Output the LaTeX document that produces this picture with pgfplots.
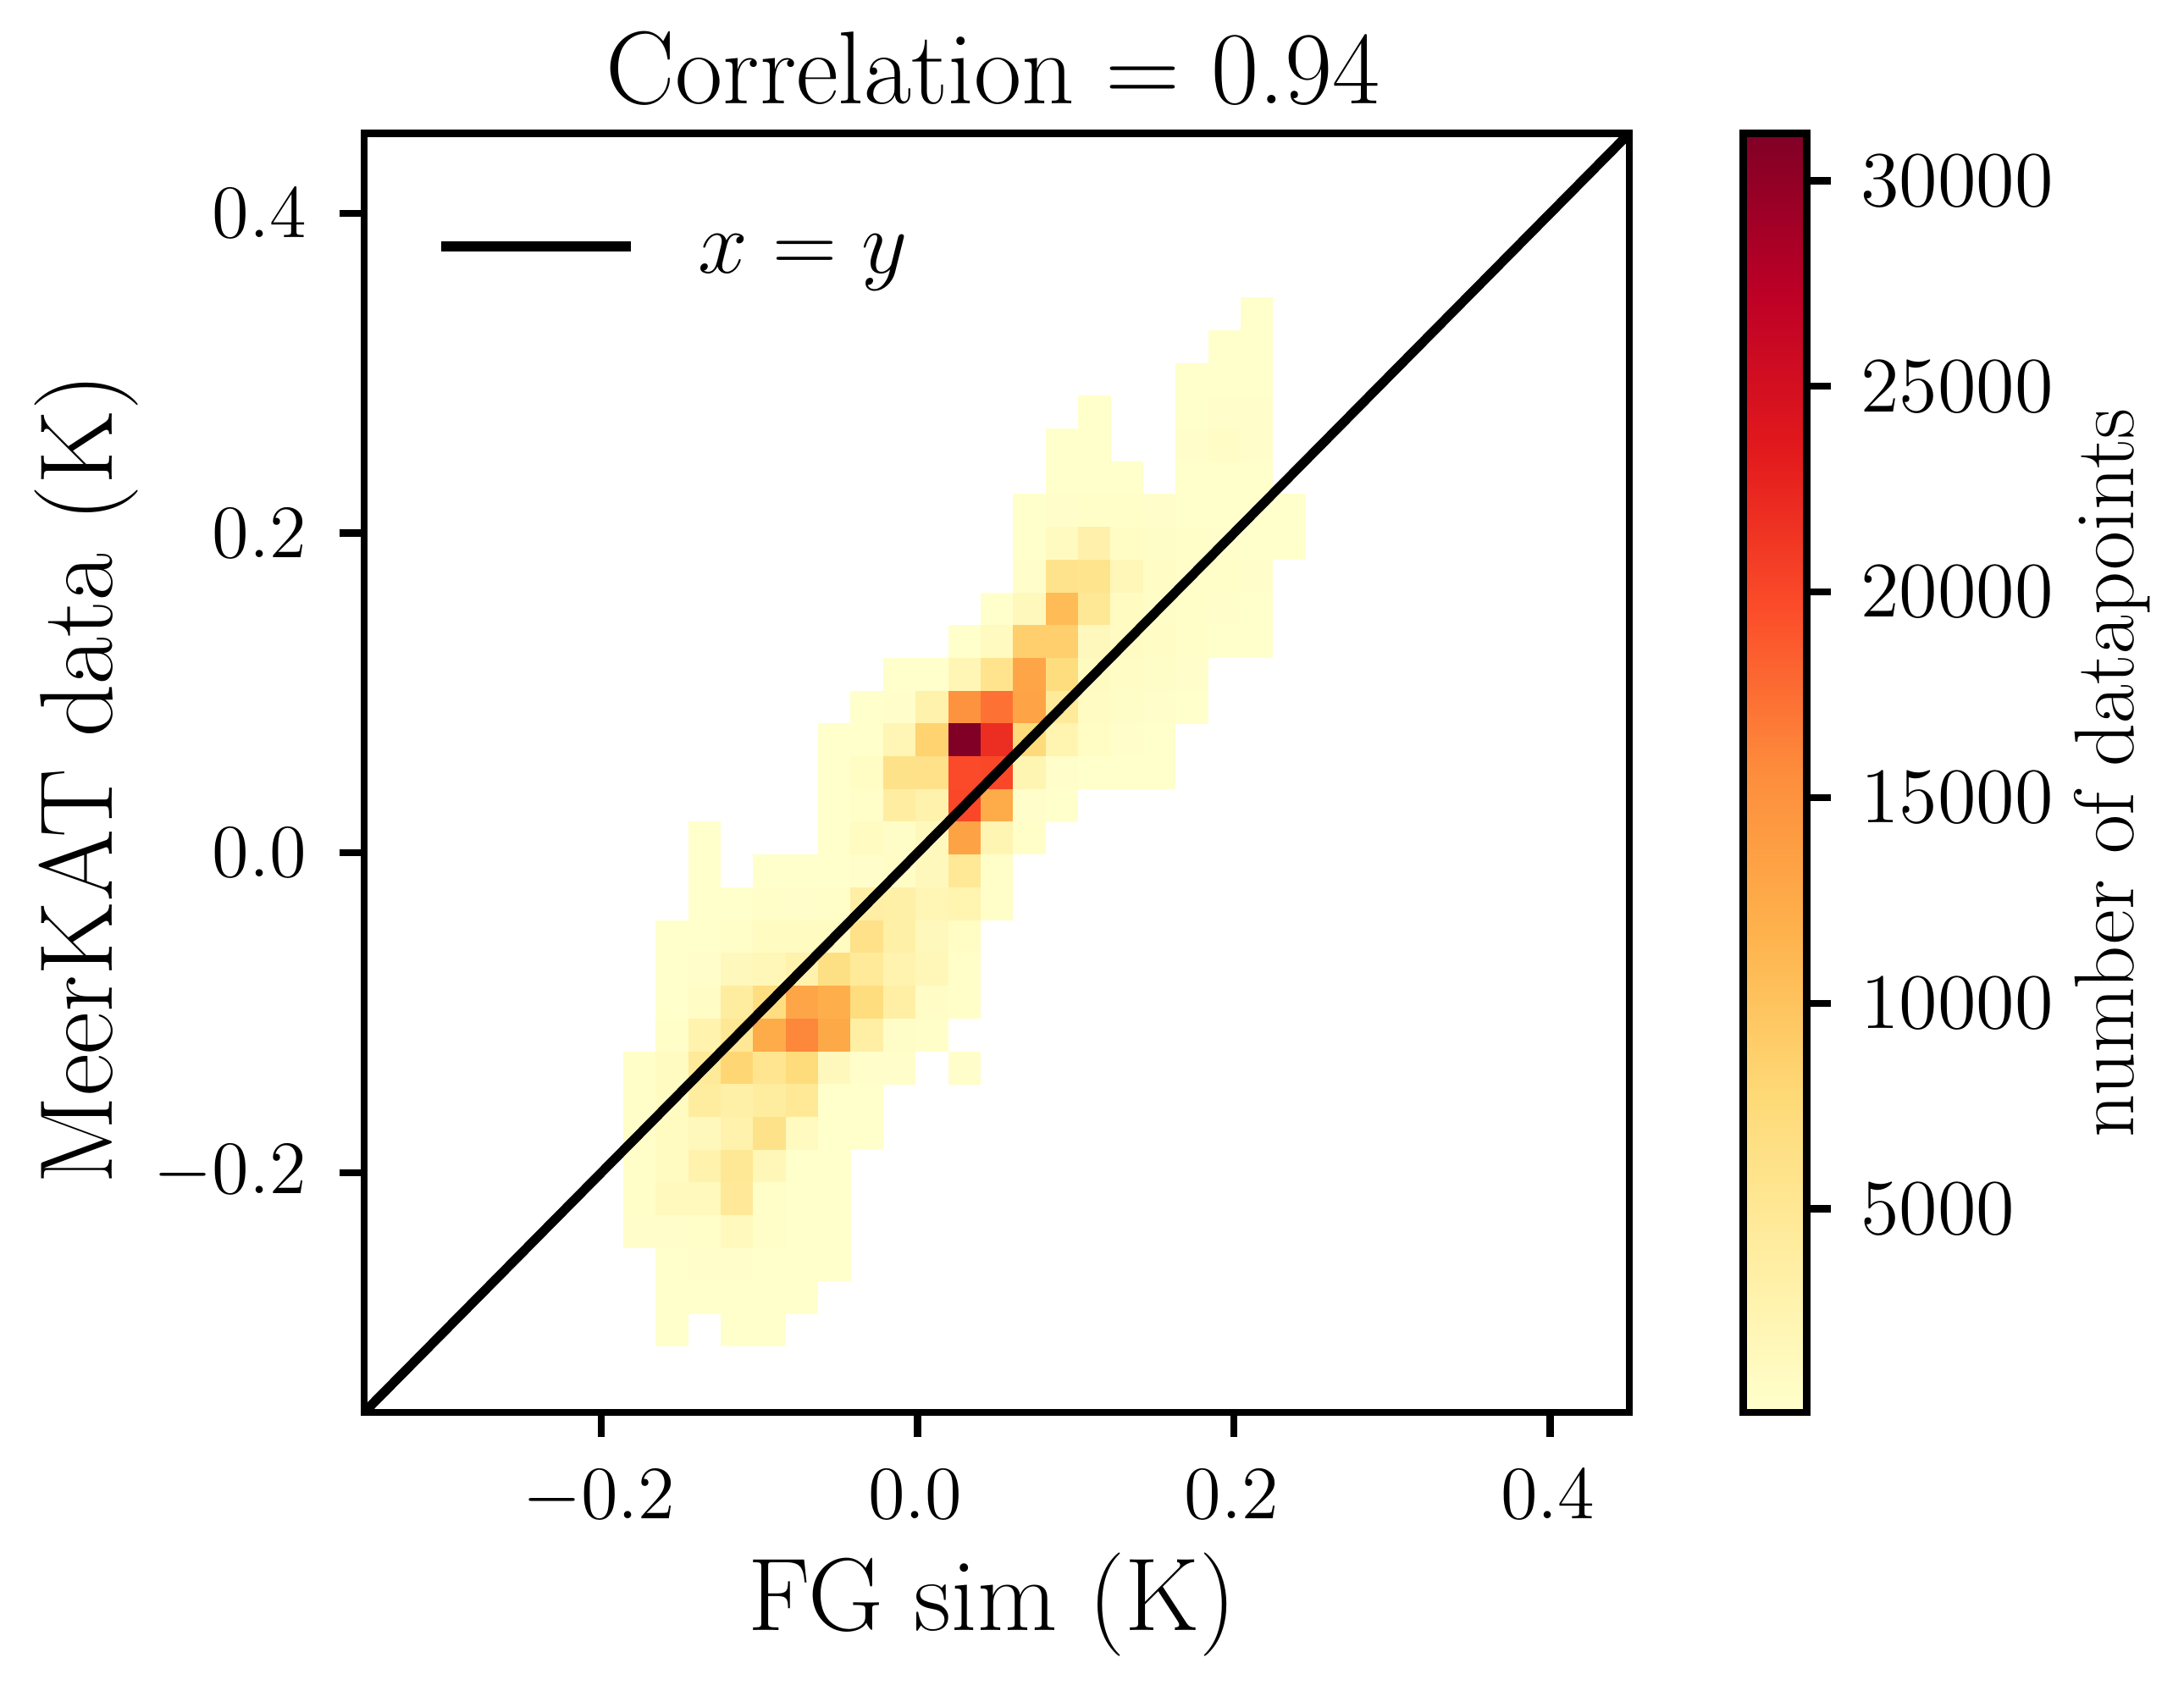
\documentclass[border=0pt]{standalone}
\usepackage{fix-cm}
\usepackage{pgfplots}
\usepackage{pgfplotstable}
\pgfplotsset{compat=1.18}
\pgfdeclareplotmark{cell}{\pgfpathrectangle{\pgfpoint{-3.48pt}{-3.51pt}}{\pgfpoint{6.96pt}{7.02pt}}\pgfusepathqfill}
\pgfplotsset{colormap={ylorrd}{rgb255=(255,255,204) rgb255=(255,237,160) rgb255=(254,217,118) rgb255=(254,178,76) rgb255=(253,141,60) rgb255=(252,78,42) rgb255=(227,26,28) rgb255=(189,0,38) rgb255=(128,0,38)}}
\pgfplotstableread{
x y v
0.2145 0.3371 100
0.1940 0.3166 100
0.2145 0.3166 100
0.1734 0.2961 100
0.1940 0.2961 100
0.2145 0.2961 100
0.1118 0.2756 100
0.1734 0.2756 150
0.1940 0.2756 200
0.2145 0.2756 200
0.0912 0.2551 100
0.1118 0.2551 100
0.1734 0.2551 200
0.1940 0.2551 600
0.2145 0.2551 250
0.0912 0.2346 100
0.1118 0.2346 100
0.1323 0.2346 100
0.1734 0.2346 150
0.1940 0.2346 150
0.2145 0.2346 150
0.0707 0.2141 150
0.0912 0.2141 200
0.1118 0.2141 300
0.1323 0.2141 300
0.1529 0.2141 250
0.1734 0.2141 150
0.1940 0.2141 150
0.2145 0.2141 150
0.2351 0.2141 100
0.0707 0.1936 150
0.0912 0.1936 1200
0.1118 0.1936 3000
0.1323 0.1936 800
0.1529 0.1936 500
0.1734 0.1936 300
0.1940 0.1936 200
0.2145 0.1936 150
0.2351 0.1936 100
0.0707 0.1731 200
0.0912 0.1731 5800
0.1118 0.1731 5600
0.1323 0.1731 1800
0.1529 0.1731 700
0.1734 0.1731 400
0.1940 0.1731 300
0.2145 0.1731 200
0.0501 0.1526 150
0.0707 0.1526 1500
0.0912 0.1526 10800
0.1118 0.1526 5000
0.1323 0.1526 1000
0.1529 0.1526 500
0.1734 0.1526 300
0.1940 0.1526 200
0.2145 0.1526 150
0.0296 0.1321 150
0.0501 0.1321 1200
0.0707 0.1321 8800
0.0912 0.1321 8800
0.1118 0.1321 1500
0.1323 0.1321 900
0.1529 0.1321 700
0.1734 0.1321 300
0.1940 0.1321 150
0.2145 0.1321 100
-0.0115 0.1116 100
0.0090 0.1116 100
0.0296 0.1116 2000
0.0501 0.1116 5700
0.0707 0.1116 13000
0.0912 0.1116 7000
0.1118 0.1116 1200
0.1323 0.1116 700
0.1529 0.1116 500
0.1734 0.1116 200
-0.0321 0.0911 100
-0.0115 0.0911 200
0.0090 0.0911 2800
0.0296 0.0911 15000
0.0501 0.0911 17300
0.0707 0.0911 13200
0.0912 0.0911 4500
0.1118 0.0911 900
0.1323 0.0911 500
0.1529 0.0911 250
0.1734 0.0911 100
-0.0526 0.0706 100
-0.0321 0.0706 100
-0.0115 0.0706 2200
0.0090 0.0706 8400
0.0296 0.0706 31100
0.0501 0.0706 22000
0.0707 0.0706 7500
0.0912 0.0706 2500
0.1118 0.0706 800
0.1323 0.0706 200
0.1529 0.0706 100
-0.0526 0.0501 100
-0.0321 0.0501 800
-0.0115 0.0501 6000
0.0090 0.0501 6200
0.0296 0.0501 19800
0.0501 0.0501 20000
0.0707 0.0501 2300
0.0912 0.0501 200
0.1118 0.0501 150
0.1323 0.0501 100
0.1529 0.0501 100
-0.0526 0.0296 100
-0.0321 0.0296 400
-0.0115 0.0296 3800
0.0090 0.0296 2800
0.0296 0.0296 20000
0.0501 0.0296 12500
0.0707 0.0296 200
0.0912 0.0296 100
-0.1348 0.0091 100
-0.0526 0.0091 100
-0.0321 0.0091 1000
-0.0115 0.0091 500
0.0090 0.0091 1500
0.0296 0.0091 13300
0.0501 0.0091 2300
0.0707 0.0091 300
-0.1348 -0.0115 100
-0.0937 -0.0115 100
-0.0732 -0.0115 100
-0.0526 -0.0115 100
-0.0321 -0.0115 200
-0.0115 -0.0115 700
0.0090 -0.0115 1500
0.0296 -0.0115 4800
0.0501 -0.0115 300
-0.1348 -0.0320 100
-0.1143 -0.0320 100
-0.0937 -0.0320 300
-0.0732 -0.0320 250
-0.0526 -0.0320 300
-0.0321 -0.0320 3500
-0.0115 -0.0320 3200
0.0090 -0.0320 2200
0.0296 -0.0320 2500
0.0501 -0.0320 300
-0.1554 -0.0525 100
-0.1348 -0.0525 100
-0.1143 -0.0525 400
-0.0937 -0.0525 1000
-0.0732 -0.0525 1000
-0.0526 -0.0525 1000
-0.0321 -0.0525 6200
-0.0115 -0.0525 3300
0.0090 -0.0525 1500
0.0296 -0.0525 800
-0.1554 -0.0730 100
-0.1348 -0.0730 200
-0.1143 -0.0730 1500
-0.0937 -0.0730 1800
-0.0732 -0.0730 2800
-0.0526 -0.0730 6500
-0.0321 -0.0730 4500
-0.0115 -0.0730 2600
0.0090 -0.0730 1800
0.0296 -0.0730 300
-0.1554 -0.0935 100
-0.1348 -0.0935 700
-0.1143 -0.0935 4000
-0.0937 -0.0935 6800
-0.0732 -0.0935 13000
-0.0526 -0.0935 12000
-0.0321 -0.0935 7000
-0.0115 -0.0935 3500
0.0090 -0.0935 700
0.0296 -0.0935 300
-0.1554 -0.1140 300
-0.1348 -0.1140 2700
-0.1143 -0.1140 5000
-0.0937 -0.1140 12500
-0.0732 -0.1140 16000
-0.0526 -0.1140 12700
-0.0321 -0.1140 3500
-0.0115 -0.1140 500
0.0090 -0.1140 300
-0.1759 -0.1345 300
-0.1554 -0.1345 1000
-0.1348 -0.1345 4500
-0.1143 -0.1345 8000
-0.0937 -0.1345 5500
-0.0732 -0.1345 7300
-0.0526 -0.1345 1500
-0.0321 -0.1345 200
-0.0115 -0.1345 200
0.0296 -0.1345 200
-0.1759 -0.1550 400
-0.1554 -0.1550 1000
-0.1348 -0.1550 4000
-0.1143 -0.1550 3200
-0.0937 -0.1550 4000
-0.0732 -0.1550 4800
-0.0526 -0.1550 150
-0.0321 -0.1550 150
-0.1759 -0.1755 400
-0.1554 -0.1755 1000
-0.1348 -0.1755 1500
-0.1143 -0.1755 2800
-0.0937 -0.1755 6000
-0.0732 -0.1755 1200
-0.0526 -0.1755 100
-0.0321 -0.1755 100
-0.1759 -0.1960 300
-0.1554 -0.1960 1000
-0.1348 -0.1960 2800
-0.1143 -0.1960 5000
-0.0937 -0.1960 1800
-0.0732 -0.1960 100
-0.0526 -0.1960 100
-0.1759 -0.2165 300
-0.1554 -0.2165 1300
-0.1348 -0.2165 1300
-0.1143 -0.2165 4700
-0.0937 -0.2165 400
-0.0732 -0.2165 100
-0.0526 -0.2165 100
-0.1759 -0.2370 200
-0.1554 -0.2370 200
-0.1348 -0.2370 400
-0.1143 -0.2370 1300
-0.0937 -0.2370 300
-0.0732 -0.2370 150
-0.0526 -0.2370 150
-0.1554 -0.2575 100
-0.1348 -0.2575 250
-0.1143 -0.2575 250
-0.0937 -0.2575 150
-0.0732 -0.2575 100
-0.0526 -0.2575 100
-0.1554 -0.2780 100
-0.1348 -0.2780 100
-0.1143 -0.2780 100
-0.0937 -0.2780 100
-0.0732 -0.2780 100
-0.1554 -0.2985 100
-0.1143 -0.2985 100
-0.0937 -0.2985 100
}\hist
\begin{document}
\begin{tikzpicture}
\useasboundingbox (0,0) rectangle (464.22pt,359.46pt);
\begin{axis}[
  at={(77.4pt,59.22pt)}, anchor=south west,
  scale only axis, width=268.92pt, height=271.89pt,
  xmin=-0.35, xmax=0.45, ymin=-0.35, ymax=0.45,
  xtick={-0.2,0,0.2,0.4}, ytick={-0.2,0,0.2,0.4},
  minor tick num=0,
  xtick pos=bottom, ytick pos=left,
  tick align=outside,
  major tick length=5.2pt,
  every tick/.style={black,line width=1.5pt},
  axis line style={line width=1.5pt},
  axis on top,
  clip mode=individual,
  tick label style={font=\fontsize{16}{18}\selectfont},
  xticklabel style={yshift=-3.55pt,xshift=-0.5pt,/pgf/number format/fixed,/pgf/number format/fixed zerofill,/pgf/number format/precision=1},
  yticklabel style={xshift=-3.55pt,/pgf/number format/fixed,/pgf/number format/fixed zerofill,/pgf/number format/precision=1},
  xlabel={FG sim (K)}, ylabel={MeerKAT data (K)},
  label style={font=\fontsize{22}{26}\selectfont},
  xlabel style={yshift=0.9pt,xshift=-0.9pt},
  ylabel style={yshift=-3.55pt,xshift=-1.33pt},
  title={Correlation = 0.94},
  title style={font=\fontsize{22}{26}\selectfont,yshift=-3.5pt,xshift=-0.75pt},
  colormap name=ylorrd,
  point meta min=50, point meta max=31150,
  colorbar,
  colorbar style={
    at={(parent axis.south east)}, anchor=south west, xshift=15.68pt,
    scale only axis, width=13.5pt, height=271.89pt,
    ymin=50, ymax=31150,
    ytick={5000,10000,15000,20000,25000,30000},
    yticklabel pos=right, ytick pos=right,
    scaled y ticks=false,
    yticklabel style={xshift=2.8pt,/pgf/number format/1000 sep={},/pgf/number format/fixed},
    tick align=outside, major tick length=5.2pt,
    every tick/.style={black,line width=1.5pt},
    axis line style={line width=1.5pt},
    tick label style={font=\fontsize{16.7}{18}\selectfont},
    ylabel={number of datapoints},
    ylabel style={font=\fontsize{18}{22}\selectfont,yshift=2.4pt},
  },
  legend style={at={(0.0570,0.9116)}, anchor=west, draw=none, fill=none, inner sep=0pt, outer sep=0pt,
    font=\fontsize{19}{22}\selectfont, nodes={inner sep=0pt}, /tikz/column 1/.style={column sep=13.4pt}},
  legend image code/.code={\draw[black,line width=2pt] (0pt,0pt) -- (40.3pt,0pt);},
]
\addplot[scatter, only marks, mark=cell, scatter src=explicit,
  scatter/use mapped color={draw=none, fill=mapped color}, forget plot]
  table[x=x, y=y, meta=v] {\hist};
\addplot[black, line width=2pt] coordinates {(-0.35,-0.35) (0.45,0.45)};
\addlegendentry{\raisebox{-4.6pt}{$x=y$}}
\end{axis}
\end{tikzpicture}
\end{document}
